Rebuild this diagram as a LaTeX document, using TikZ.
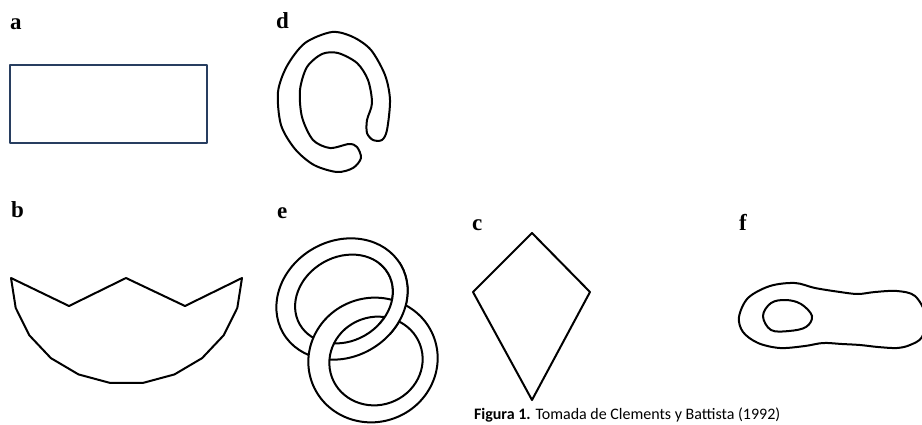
\documentclass[tikz,border=0pt]{standalone}
\usepackage{fontspec}
\setmainfont{Liberation Serif}
\newfontfamily\capfont{Carlito}
\usepackage{tikz}
\usetikzlibrary{positioning}
\definecolor{framenavy}{RGB}{40,62,96}

\begin{document}
\begin{tikzpicture}[x=1pt, y=-1pt, line width=2pt, line join=round]
  \useasboundingbox (0,0) rectangle (922,424);
  \clip (0,0) rectangle (922,424);

  % Labels
  \node (la) [anchor=base west, inner sep=0, font=\bfseries\fontsize{23}{23}\selectfont] at (9,29) {a};
  \node (lb) [anchor=base west, inner sep=0, font=\bfseries\fontsize{23}{23}\selectfont] at (10,217) {b};
  \node (ld) [anchor=base west, inner sep=0, font=\bfseries\fontsize{23}{23}\selectfont] at (275,28) {d};
  \node (le) [anchor=base west, inner sep=0, font=\bfseries\fontsize{23}{23}\selectfont] at (276,218) {e};
  \node (lc) [anchor=base west, inner sep=0, font=\bfseries\fontsize{23}{23}\selectfont] at (471,230) {c};
  \node (lf) [anchor=base west, inner sep=0, font=\bfseries\fontsize{23}{23}\selectfont] at (738,230) {f};

  % a: rectangle
  \draw[framenavy] (10,65) rectangle (207,143);

  % b: crown
  \draw (11,278) -- (69,306) -- (126,278) -- (185,306) -- (242,278)
    -- plot[domain=0:180, samples=12] ({126.5+115.5*cos(\x)},{278+106*sin(\x)}) -- cycle;

  % d: open ring
  \draw plot[smooth cycle, tension=0.5] coordinates {
    (332,32) (305,43) (287,66) (278,92) (281,125) (295,149) (314,165) (337,172)
    (353,168) (361,158) (357,147) (349,144) (330,148) (313,140) (302,117) (300,90)
    (307,67) (322,54) (338,53) (357,63) (368,80) (372,103) (367,120) (367,133)
    (373,140) (382,140) (387,130) (390,100) (385,75) (371,50) (353,37)};

  % e: linked rings
  \draw[fill=white, even odd rule]
    (342,299) ellipse[x radius=68, y radius=58, rotate=30]
    (344,299) ellipse[x radius=51, y radius=42, rotate=30];
  \draw[fill=white, even odd rule]
    (373,360) ellipse[x radius=65, y radius=62, rotate=20]
    (376,361) ellipse[x radius=47, y radius=44, rotate=20];
  \begin{scope}
    \clip (378,262) rectangle (450,334);
    \draw[fill=white, even odd rule]
      (342,299) ellipse[x radius=68, y radius=58, rotate=30]
      (344,299) ellipse[x radius=51, y radius=42, rotate=30];
  \end{scope}

  % c: kite
  \draw (532,233) -- (590,292) -- (532,400) -- (473,292) -- cycle;

  % f: blob with hole
  \draw plot[smooth cycle, tension=0.55] coordinates {
    (739,317) (748,298) (770,286) (795,283) (815,288) (840,292) (858,294)
    (875,292) (897,291) (915,296) (926,316) (922,337) (910,345) (897,348)
    (878,347) (860,345) (842,344) (823,343) (805,346) (780,348) (758,343) (743,332)};
  \draw plot[smooth cycle, tension=0.6] coordinates {
    (763,316) (771,303) (786,300) (801,304) (812,316) (806,327) (789,331) (771,330)};

  % Caption
  \node (cap) [anchor=base west, inner sep=0, font=\capfont\fontsize{16}{16}\selectfont] at (473,419)
    {\textbf{Figura 1.} Tomada de Clements y Battista (1992)};
\end{tikzpicture}
\end{document}
